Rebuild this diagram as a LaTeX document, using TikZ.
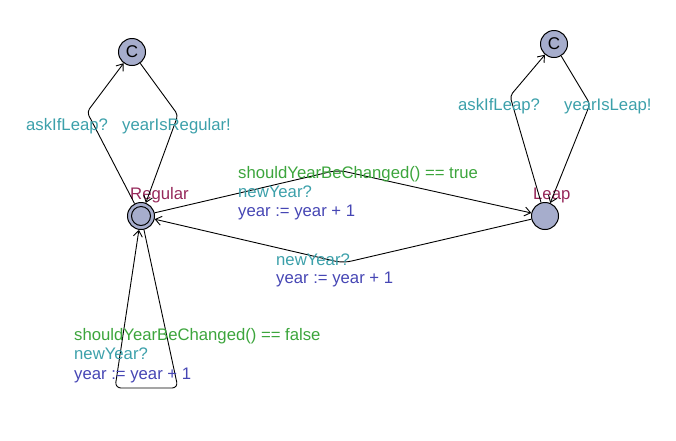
\documentclass[tikz,border=0pt]{standalone}
\usepackage{fontspec}
\setmainfont{Liberation Sans}
\usetikzlibrary{arrows.meta}
\definecolor{nodefill}{RGB}{166,173,204}
\definecolor{locname}{RGB}{150,40,90}
\definecolor{guardc}{RGB}{60,165,60}
\definecolor{syncc}{RGB}{60,160,170}
\definecolor{updc}{RGB}{70,70,180}
\tikzset{
  loc/.style={circle,draw=black,fill=nodefill,line width=1pt,minimum size=27pt,inner sep=0pt},
  lbl/.style={anchor=base west,inner sep=0pt,font=\fontsize{16.7}{17}\selectfont},
  edge/.style={draw=black,line width=0.9pt,-{Straight Barb[length=6pt,width=9pt]}},
}
\begin{document}
\begin{tikzpicture}[x=1pt,y=-1pt]
\useasboundingbox (0,0) rectangle (676,440);
% locations
\node[loc] (reg) at (141,216) {};
\draw[line width=1pt] (reg.center) circle (9.5pt);
\node[loc] (c1) at (132,52) {\fontsize{17}{17}\selectfont C};
\node[loc] (leap) at (545,216) {};
\node[loc] (c2) at (554,44) {\fontsize{17}{17}\selectfont C};
\node[lbl,text=locname] (nreg) at (130,199) {Regular};
\node[lbl,text=locname] (nleap) at (533,199) {Leap};
% nails
\coordinate (n1) at (87,112);
\coordinate (n2) at (178,115);
\coordinate (n3) at (510,96);
\coordinate (n4) at (590,104);
\coordinate (n5) at (338,170);
\coordinate (n6) at (343,263);
\coordinate (n7) at (178,388);
\coordinate (n8) at (115,388);
% edges
\draw[edge,rounded corners=4pt] (reg) -- (n1) -- (c1);
\draw[edge,rounded corners=4pt] (c1) -- (n2) -- (reg);
\draw[edge,rounded corners=4pt] (leap) -- (n3) -- (c2);
\draw[edge,rounded corners=4pt] (c2) -- (n4) -- (leap);
\draw[edge,rounded corners=8pt] (reg) -- (n5) -- (leap);
\draw[edge,rounded corners=8pt] (leap) -- (n6) -- (reg);
\draw[edge,rounded corners=6pt] (reg) -- (n7) -- (n8) -- (reg);
% labels
\node[lbl,text=syncc] (l1) at (26,130) {askIfLeap?};
\node[lbl,text=syncc] (l2) at (122,130) {yearIsRegular!};
\node[lbl,text=syncc] (l3) at (458,110) {askIfLeap?};
\node[lbl,text=syncc] (l4) at (564,110) {yearIsLeap!};
\node[lbl,text=guardc] (g1) at (238,178) {shouldYearBeChanged() == true};
\node[lbl,text=syncc] (s1) at (238,197) {newYear?};
\node[lbl,text=updc] (u1) at (238,216) {year := year + 1};
\node[lbl,text=syncc] (s2) at (276,265) {newYear?};
\node[lbl,text=updc] (u2) at (276,283) {year := year + 1};
\node[lbl,text=guardc] (g3) at (74,340) {shouldYearBeChanged() == false};
\node[lbl,text=syncc] (s3) at (74,359) {newYear?};
\node[lbl,text=updc] (u3) at (74,379) {year := year + 1};
\end{tikzpicture}
\end{document}
